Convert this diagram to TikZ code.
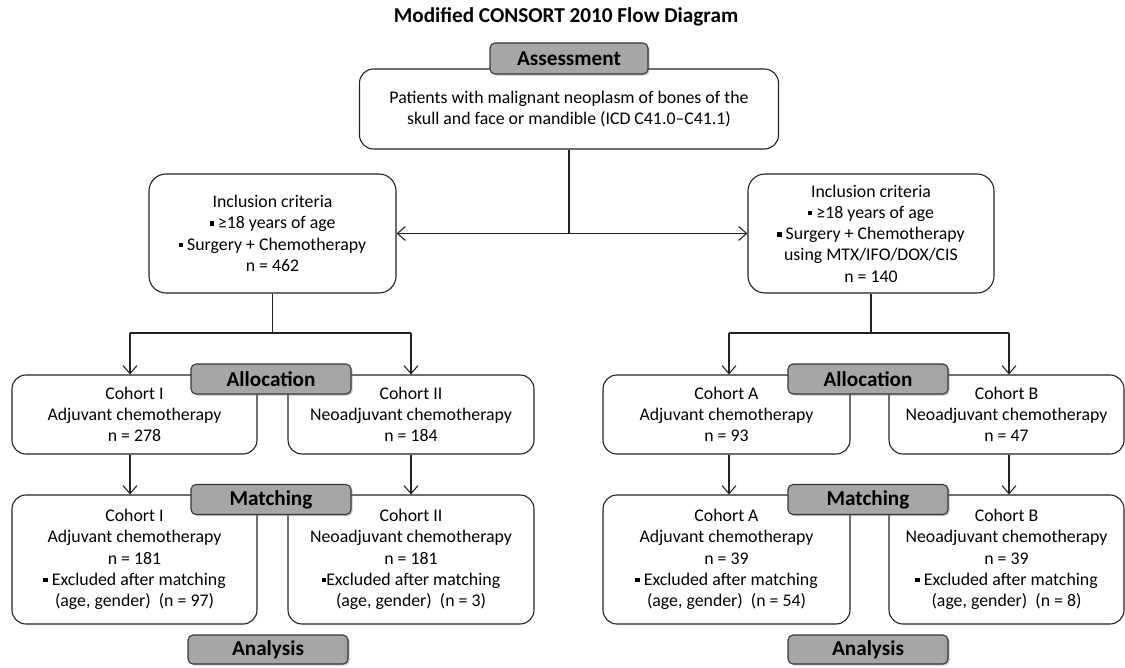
\documentclass[tikz,border=0pt]{standalone}
\usepackage{fontspec}
\setmainfont{Carlito}
\usetikzlibrary{arrows.meta,shadows}
\definecolor{lblgray}{HTML}{A6A6A6}
\definecolor{ink}{HTML}{222222}
\newcommand\sqb{\rule[0.17em]{0.25em}{0.25em}}
\begin{document}
\begin{tikzpicture}[x=1pt,y=-1pt,line width=1.1pt,draw=ink,
  font=\fontsize{17.8}{21.3}\selectfont,
  wbox/.style={draw=ink,rounded corners=14pt,fill=white,align=center,inner sep=0pt},
  gbox/.style={draw=ink!90,fill=lblgray,rounded corners=5pt,inner sep=0pt,
    font=\bfseries\fontsize{21.2}{25}\selectfont,
    drop shadow={shadow xshift=1.6pt,shadow yshift=-1.6pt,opacity=0.45}},
  arr/.style={-{Straight Barb[length=8pt,width=14pt]}}]
\useasboundingbox (0,0) rectangle (1125,668);

\node[font=\bfseries\fontsize{21.2}{25}\selectfont] (title) at (566,17) {Modified CONSORT 2010 Flow Diagram};

% white boxes
\node[wbox,minimum width=419pt,minimum height=80pt] (pat) at (569,109)
  {Patients with malignant neoplasm of bones of the\\skull and face or mandible (ICD C41.0--C41.1)};
\node[wbox,rounded corners=17pt,minimum width=247pt,minimum height=119pt] (incL) at (272.5,233.5)
  {Inclusion criteria\\\sqb{} ≥18 years of age\\\sqb{} Surgery + Chemotherapy\\n = 462};
\node[wbox,rounded corners=17pt,minimum width=246pt,minimum height=119pt] (incR) at (871,233.5)
  {Inclusion criteria\\\sqb{} ≥18 years of age\\\sqb{} Surgery + Chemotherapy\\using MTX/IFO/DOX/CIS\\n = 140};

\node[wbox,minimum width=245pt,minimum height=79pt] (c1) at (134.5,414.5)
  {Cohort I\\Adjuvant chemotherapy\\n = 278};
\node[wbox,minimum width=246pt,minimum height=79pt] (c2) at (411,414.5)
  {Cohort II\\Neoadjuvant chemotherapy\\n = 184};
\node[wbox,minimum width=247pt,minimum height=79pt] (cA) at (726.5,414.5)
  {Cohort A\\Adjuvant chemotherapy\\n = 93};
\node[wbox,minimum width=235pt,minimum height=79pt] (cB) at (1006.5,414.5)
  {Cohort B\\Neoadjuvant chemotherapy\\n = 47};

\node[wbox,minimum width=245pt,minimum height=129pt] (m1) at (134.5,559.5)
  {Cohort I\\Adjuvant chemotherapy\\n = 181\\\sqb{} Excluded after matching\\(age, gender)~~(n = 97)};
\node[wbox,minimum width=246pt,minimum height=129pt] (m2) at (411,559.5)
  {Cohort II\\Neoadjuvant chemotherapy\\n = 181\\\sqb{}Excluded after matching\\(age, gender)~~(n = 3)};
\node[wbox,minimum width=247pt,minimum height=129pt] (mA) at (726.5,559.5)
  {Cohort A\\Adjuvant chemotherapy\\n = 39\\\sqb{} Excluded after matching\\(age, gender)~~(n = 54)};
\node[wbox,minimum width=235pt,minimum height=129pt] (mB) at (1006.5,559.5)
  {Cohort B\\Neoadjuvant chemotherapy\\n = 39\\\sqb{} Excluded after matching\\(age, gender)~~(n = 8)};

% grey labels
\node[gbox,minimum width=158pt,minimum height=31pt] (assess) at (569,58.5) {Assessment};
\node[gbox,minimum width=160pt,minimum height=30pt] (allocL) at (271,379) {Allocation};
\node[gbox,minimum width=160pt,minimum height=30pt] (allocR) at (868,379) {Allocation};
\node[gbox,minimum width=160pt,minimum height=30pt] (matchL) at (271,499.5) {Matching};
\node[gbox,minimum width=160pt,minimum height=30pt] (matchR) at (868,499.5) {Matching};
\node[gbox,minimum width=160pt,minimum height=29pt] (anaL) at (268,649.5) {Analysis};
\node[gbox,minimum width=160pt,minimum height=29pt] (anaR) at (868,649.5) {Analysis};

% connectors
\coordinate (split) at (569,233.5);
\draw (pat.south) -- (split);
\draw[arr] (split) -- (incL.east);
\draw[arr] (split) -- (incR.west);

\coordinate (hL1) at (130,333);
\coordinate (hL2) at (411,333);
\draw (incL.south) -- (incL.south |- hL1);
\draw (hL1) -- (hL2);
\draw[arr] (hL1) -- (hL1 |- c1.north);
\draw[arr] (hL2) -- (hL2 |- c2.north);
\draw[arr] (hL1 |- c1.south) -- (hL1 |- m1.north);
\draw[arr] (hL2 |- c2.south) -- (hL2 |- m2.north);

\coordinate (hR1) at (729,333);
\coordinate (hR2) at (1009,333);
\draw (incR.south) -- (incR.south |- hR1);
\draw (hR1) -- (hR2);
\draw[arr] (hR1) -- (hR1 |- cA.north);
\draw[arr] (hR2) -- (hR2 |- cB.north);
\draw[arr] (hR1 |- cA.south) -- (hR1 |- mA.north);
\draw[arr] (hR2 |- cB.south) -- (hR2 |- mB.north);
\end{tikzpicture}
\end{document}
